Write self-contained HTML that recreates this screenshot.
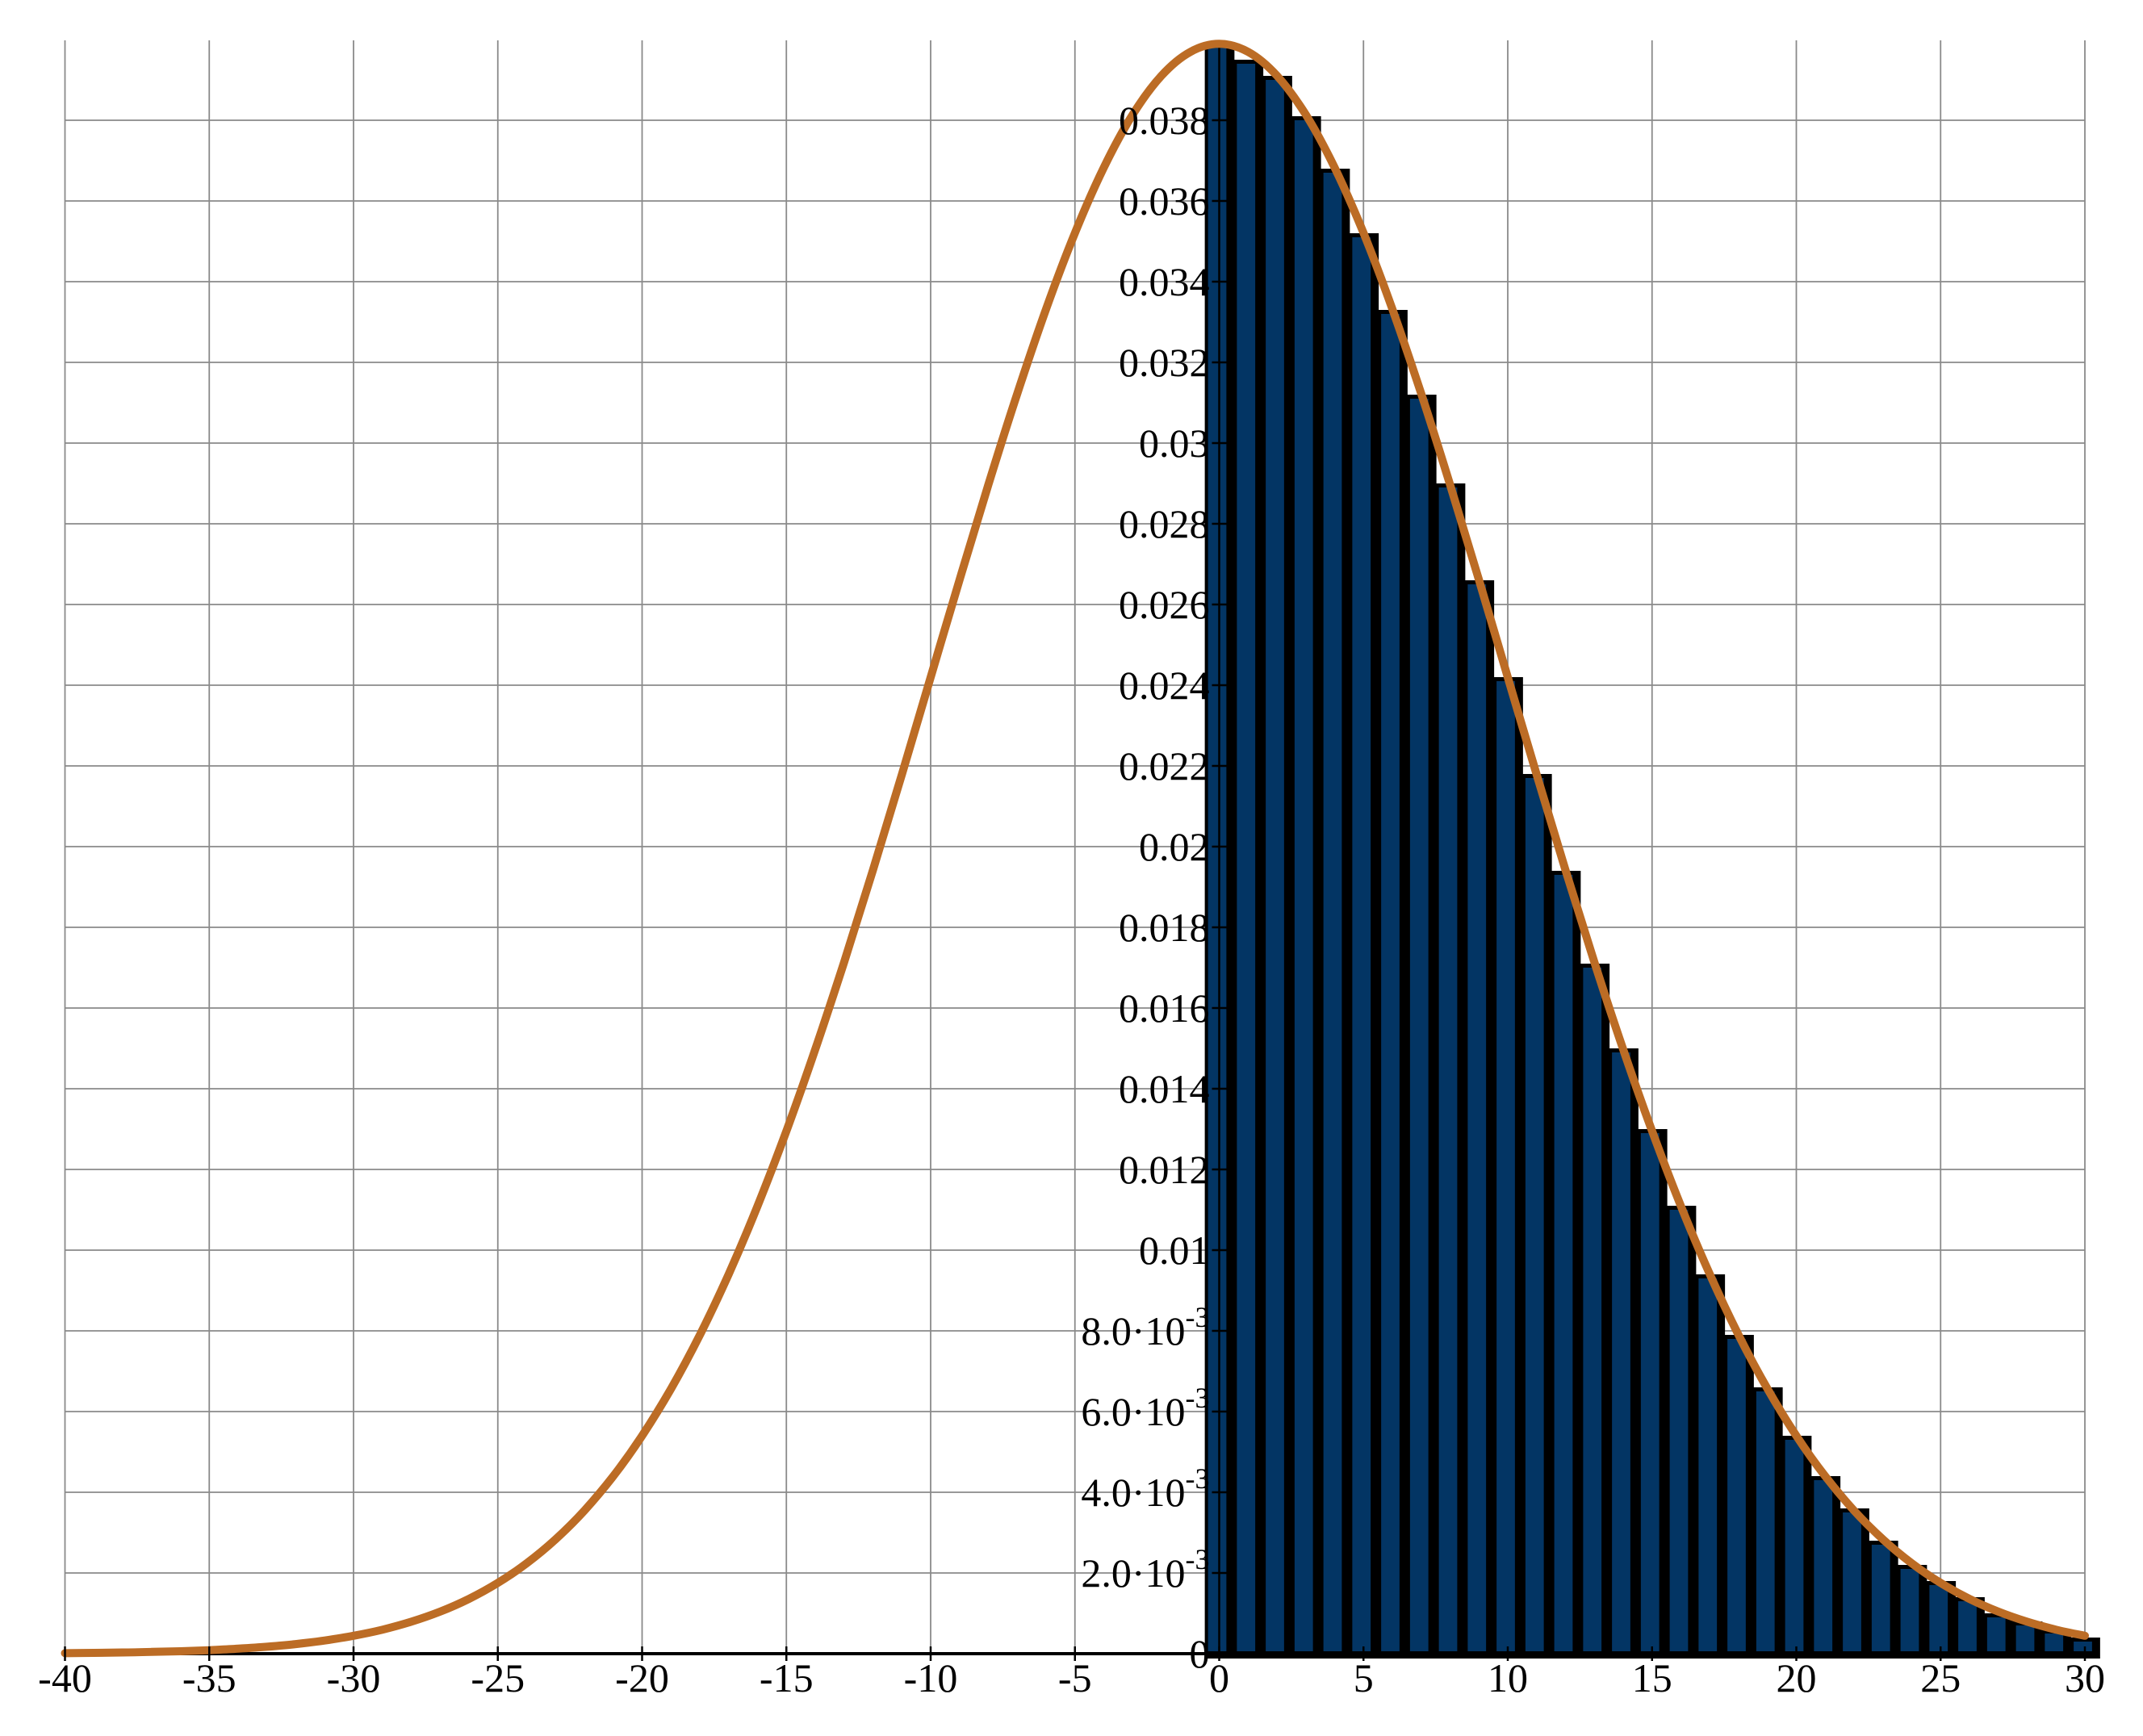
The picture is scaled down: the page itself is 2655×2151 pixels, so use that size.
<!DOCTYPE html>
<html><head><meta charset="utf-8"><style>
html,body{margin:0;padding:0;background:#fff;}
svg text{font-family:"Liberation Serif",serif;fill:#000;}
</style></head><body>
<svg id="chart" width="2655" height="2146" xmlns="http://www.w3.org/2000/svg"></svg>
<script>
const xTicks = [-40,-35,-30,-25,-20,-15,-10,-5,0,5,10,15,20,25,30];
const yTicks = [0.002,0.004,0.006,0.008,0.01,0.012,0.014,0.016,0.018,0.02,0.022,0.024,0.026,0.028,0.03,0.032,0.034,0.036,0.038];
const yTickLabels = ["2.0·10|-3","4.0·10|-3","6.0·10|-3","8.0·10|-3","0.01","0.012","0.014","0.016","0.018","0.02","0.022","0.024","0.026","0.028","0.03","0.032","0.034","0.036","0.038"];
const barCenters = [0,1,2,3,4,5,6,7,8,9,10,11,12,13,14,15,16,17,18,19,20,21,22,23,24,25,26,27,28,29,30];
const barValues = [0.0399,0.0395,0.0391,0.0381,0.0368,0.0352,0.0333,0.0312,0.0290,0.0266,0.0242,0.0218,0.0194,0.0171,0.0150,0.0130,0.0111,0.0094,0.0079,0.0066,0.0054,0.0044,0.0036,0.0028,0.0022,0.0018,0.0014,0.0010,0.0008,0.0006,0.0004];
const curveX = [-40,-39,-38,-37,-36,-35,-34,-33,-32,-31,-30,-29,-28,-27,-26,-25,-24,-23,-22,-21,-20,-19,-18,-17,-16,-15,-14,-13,-12,-11,-10,-9,-8,-7,-6,-5,-4,-3,-2,-1,0,1,2,3,4,5,6,7,8,9,10,11,12,13,14,15,16,17,18,19,20,21,22,23,24,25,26,27,28,29,30];
const curveY = [0.000013,0.000020,0.000029,0.000043,0.000061,0.000087,0.000123,0.000172,0.000238,0.000327,0.000443,0.000595,0.000792,0.001042,0.001358,0.001753,0.002239,0.002833,0.003547,0.004398,0.005399,0.006562,0.007895,0.009405,0.011092,0.012952,0.014973,0.017137,0.019419,0.021785,0.024197,0.026609,0.028969,0.031225,0.033322,0.035207,0.036827,0.038139,0.039104,0.039695,0.039894,0.039695,0.039104,0.038139,0.036827,0.035207,0.033322,0.031225,0.028969,0.026609,0.024197,0.021785,0.019419,0.017137,0.014973,0.012952,0.011092,0.009405,0.007895,0.006562,0.005399,0.004398,0.003547,0.002833,0.002239,0.001753,0.001358,0.001042,0.000792,0.000595,0.000443];

const X0=1510.5, XS=35.75, Y0=2049, YS=50000;
const xs = v => X0 + v*XS;
const ys = v => Y0 - v*YS;
const NS="http://www.w3.org/2000/svg";
const svg=document.getElementById('chart');
function mk(tag, attrs, parent){const e=document.createElementNS(NS,tag);for(const k in attrs)e.setAttribute(k,attrs[k]);(parent||svg).appendChild(e);return e;}

const grid=mk('g',{});


xTicks.forEach(t=>{
  if(t===0) return;
  const l=mk('line',{x1:xs(t),x2:xs(t),y1:50,y2:Y0,stroke:'#8a8a8a',"stroke-width":1.8},grid);
  
  
});
yTicks.forEach(t=>{
  const l=mk('line',{x1:xs(-40),x2:xs(30),y1:ys(t),y2:ys(t),stroke:'#8a8a8a',"stroke-width":1.8},grid);
  
  
});

const bars=mk('g',{});


barCenters.forEach((c,i)=>{
  const x1=xs(c-0.5), x2=xs(c+0.5), top=ys(barValues[i]);
  const b=mk('rect',{x:x1,y:top,width:x2-x1+1,height:Y0+6-top,fill:'#000'},bars);
  
  
  const f=mk('rect',{x:x1+4,y:top+5,width:x2-x1-13,height:Y0-top-8,fill:'#033564'},bars);
  
  
});

const ya=mk('line',{x1:X0,x2:X0,y1:50,y2:Y0,stroke:'#000',"stroke-width":2.5});


const xa=mk('line',{x1:xs(-40),x2:xs(30.5),y1:Y0,y2:Y0,stroke:'#000',"stroke-width":4});



function smooth(){
  let p='M'+xs(curveX[0])+','+ys(curveY[0]);
  for(let i=0;i<curveX.length-1;i++){
    const p0=[xs(curveX[Math.max(i-1,0)]),ys(curveY[Math.max(i-1,0)])];
    const p1=[xs(curveX[i]),ys(curveY[i])];
    const p2=[xs(curveX[i+1]),ys(curveY[i+1])];
    const p3=[xs(curveX[Math.min(i+2,curveX.length-1)]),ys(curveY[Math.min(i+2,curveX.length-1)])];
    const c1=[p1[0]+(p2[0]-p0[0])/6,p1[1]+(p2[1]-p0[1])/6];
    const c2=[p2[0]-(p3[0]-p1[0])/6,p2[1]-(p3[1]-p1[1])/6];
    p+=' C'+c1.map(v=>v.toFixed(1)).join(',')+' '+c2.map(v=>v.toFixed(1)).join(',')+' '+p2.map(v=>v.toFixed(1)).join(',');
  }
  return p;
}
const cv=mk('path',{d:smooth(),fill:'none',stroke:'#BC6C25',"stroke-width":10,"stroke-linecap":"round","stroke-linejoin":"round"});



xTicks.forEach(t=>{
  const tk=mk('line',{x1:xs(t),x2:xs(t),y1:Y0-9,y2:Y0+9,stroke:'#000',"stroke-width":2.5});
  
  
  const tx=mk('text',{x:xs(t),y:Y0+47,"text-anchor":"middle","font-size":50});
  tx.textContent=String(t);
  
  
});
yTicks.forEach((t,i)=>{
  const tk=mk('line',{x1:X0-9,x2:X0+9,y1:ys(t),y2:ys(t),stroke:'#000',"stroke-width":2.5});
  
  
  const parts=yTickLabels[i].split('|');
  const tx=mk('text',{x:X0-12,y:ys(t)+17,"text-anchor":"end","font-size":50});
  tx.textContent=parts[0];
  if(parts[1]){
    const sp=mk('tspan',{dy:-22,"font-size":36},tx);
    sp.textContent=parts[1];
  }
  
  
});
const z=mk('text',{x:X0-12,y:Y0+17,"text-anchor":"end","font-size":50});
z.textContent='0';


</script>
</body></html>
